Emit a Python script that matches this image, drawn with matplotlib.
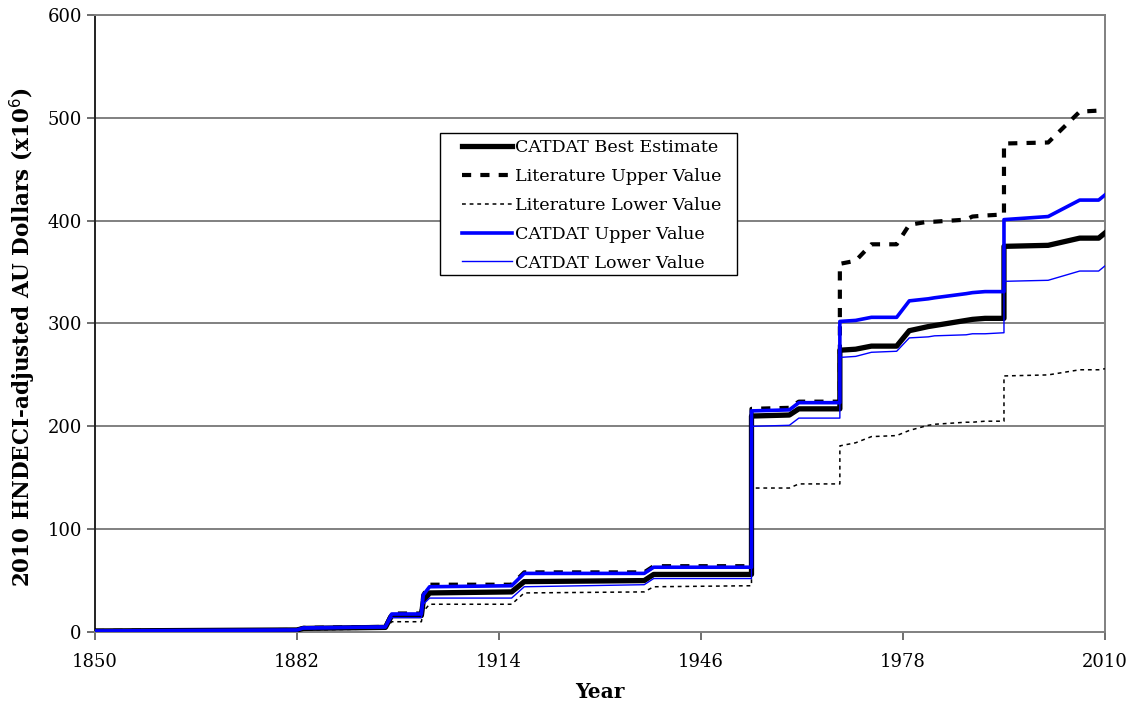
import matplotlib
matplotlib.use("Agg")
import matplotlib.pyplot as plt
from matplotlib.patches import Rectangle

# breakpoint years shared by all series;
# repeated years give the vertical jumps
years = [1850, 1882, 1883, 1896, 1897, 1901.7, 1902, 1903, 1916, 1918,
         1937, 1938.5, 1954, 1954, 1960, 1961.5, 1968, 1968, 1970.5, 1973,
         1977, 1979, 1982, 1983, 1988, 1989, 1991, 1994, 1994, 2001,
         2006, 2009, 2010]

catdat_best = [1, 2, 3.5, 4.5, 16, 16, 30, 38, 39, 49,
               50, 56, 56, 210, 211, 217, 217, 274, 275, 278,
               278, 293, 297, 298, 303, 304, 305, 305, 375, 376,
               383, 383, 388]
lit_upper = [1, 2, 4, 5, 18, 18, 36, 46, 46, 58,
             58, 64, 64, 217, 218, 224, 224, 358, 361, 377,
             377, 396, 399, 399, 401, 404, 405, 406, 475, 476,
             506, 507, 508]
lit_lower = [0.5, 1.5, 2, 3, 10, 10, 20, 27, 27, 38,
             39, 44, 45, 140, 140, 144, 144, 181, 184, 190,
             191, 196, 201, 202, 204, 204, 205, 205, 249, 250,
             255, 255, 256]
catdat_upper = [1, 2, 4, 5, 17.5, 17.5, 36, 44, 45, 57,
                57, 63, 63, 215, 216, 223, 223, 302, 303, 306,
                306, 322, 324, 325, 329, 330, 331, 331, 401, 404,
                420, 420, 425]
catdat_lower = [0.5, 1.5, 3, 4, 14, 14, 27, 33, 33, 44,
                46, 52, 52, 200, 201, 208, 208, 267, 268, 272,
                273, 286, 287, 288, 289, 290, 290, 291, 341, 342,
                351, 351, 356]

x_ticks = [1850, 1882, 1914, 1946, 1978, 2010]
y_ticks = [0, 100, 200, 300, 400, 500, 600]

fig = plt.figure(figsize=(11.34, 7.06), dpi=100)
ax = fig.add_axes([0.0838, 0.1048, 0.8906, 0.874])

for y in y_ticks[1:]:
    ax.axhline(y, color="#808080", lw=1.4, zorder=1)

ax.plot(years, catdat_best, color="black", lw=3.8, label="CATDAT Best Estimate", zorder=3)
ax.plot(years, lit_upper, color="black", lw=3.0, ls=(0, (2.2, 2.2)),
        label="Literature Upper Value", zorder=4)
ax.plot(years, lit_lower, color="black", lw=1.1, ls=(0, (2.5, 2.5)),
        label="Literature Lower Value", zorder=4)
ax.plot(years, catdat_upper, color="#0000ff", lw=2.6, label="CATDAT Upper Value", zorder=5)
ax.plot(years, catdat_lower, color="#0000ff", lw=1.0, label="CATDAT Lower Value", zorder=6)

ax.set_xlim(1850, 2010)
ax.set_ylim(0, 600)
ax.set_xticks(x_ticks)
ax.set_yticks(y_ticks)

for side in ["top", "right", "bottom"]:
    ax.spines[side].set_color("#808080")
    ax.spines[side].set_linewidth(1.4)
ax.spines["left"].set_color("#222222")
ax.spines["left"].set_linewidth(1.4)

ax.tick_params(axis="both", direction="out", length=6, width=1.2, colors="#555555",
               labelcolor="black", labelsize=13)
for lab in ax.get_xticklabels() + ax.get_yticklabels():
    lab.set_family("DejaVu Serif")
ax.tick_params(axis="x", pad=9)

ax.set_xlabel("Year", fontsize=14.5, fontweight="bold", family="DejaVu Serif", labelpad=8)
ax.set_ylabel("2010 HNDECI-adjusted AU Dollars (x10$^6$)", fontsize=15.5,
              fontweight="bold", family="DejaVu Serif")
ax.yaxis.set_label_coords(-0.056, 0.477)

# legend box has wider padding at the sides than on top, so draw the frame separately
ax.add_patch(Rectangle((0.3416, 0.5786), 0.294, 0.2301, transform=ax.transAxes,
                       facecolor="white", edgecolor="black", lw=1.0, zorder=7))
leg = ax.legend(loc="upper left", bbox_to_anchor=(0.3634, 0.799), borderaxespad=0,
                borderpad=0, frameon=False, handlelength=2.85,
                handletextpad=0.15, labelspacing=0.68,
                prop={"family": "DejaVu Serif", "size": 12.6})
leg.set_zorder(8)

fig.savefig("out.png", dpi=100)
